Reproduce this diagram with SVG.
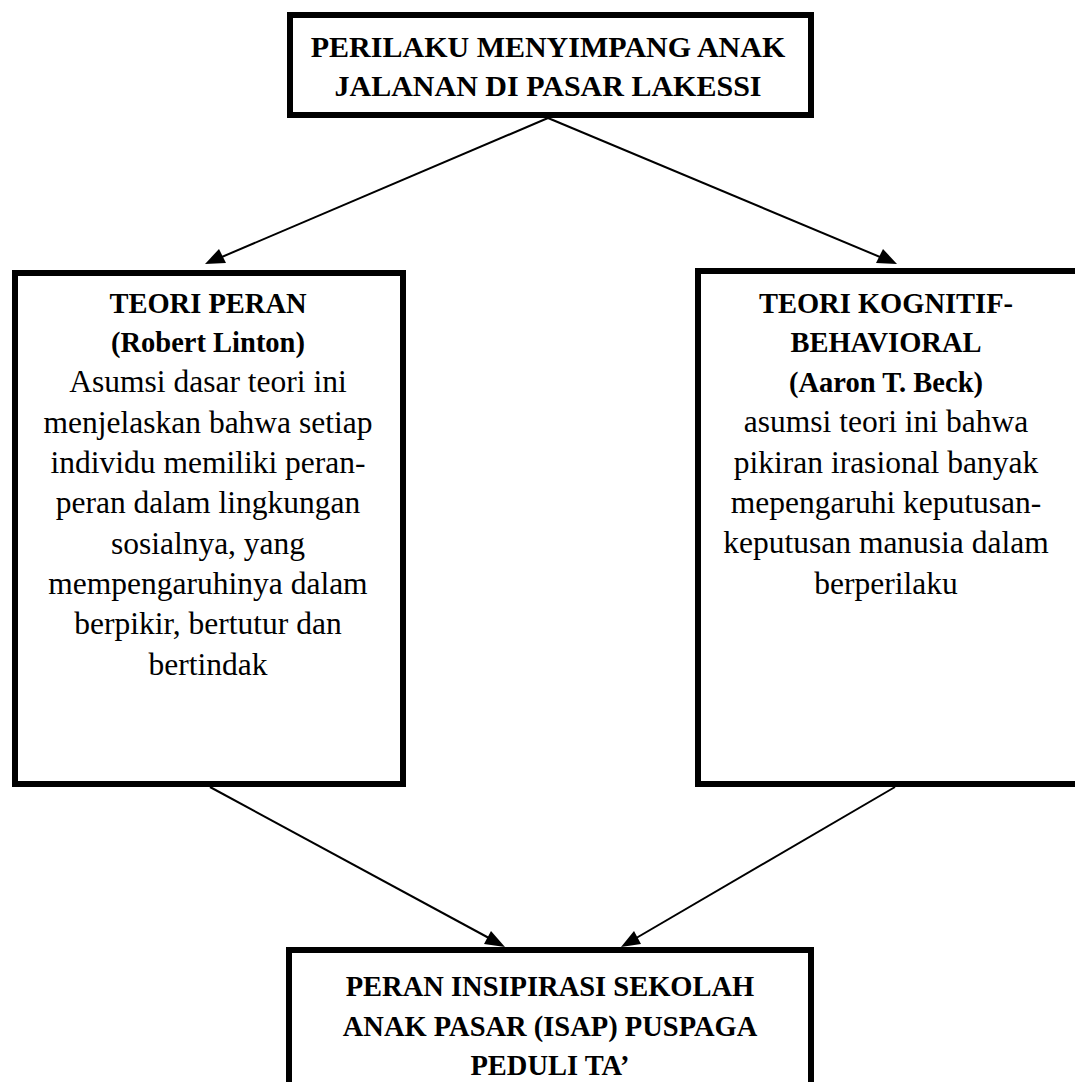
<svg xmlns="http://www.w3.org/2000/svg" width="1075" height="1082" viewBox="0 0 1075 1082">
<defs>
<style>
.box{fill:#fff;stroke:#000;stroke-width:6}
.t{font-family:"Liberation Serif","Times New Roman",serif;font-size:31.5px;fill:#000;text-anchor:middle}
.b{font-weight:bold;font-size:28.5px}
.h1{font-size:30px}
.c{stroke:#000;stroke-width:2;fill:none}
.ah{fill:#000}
</style>
</defs>
<rect width="1075" height="1082" fill="#fff"/>
<g id="connectors">
<line class="c" x1="548" y1="118" x2="210" y2="262"/>
<polygon class="ah" points="205,264 219,249 226,263"/>
<line class="c" x1="548" y1="118" x2="892" y2="262"/>
<polygon class="ah" points="897,264 876,263 883,249"/>
<line class="c" x1="210" y1="787" x2="500" y2="944"/>
<polygon class="ah" points="505,947 484,944 491,931"/>
<line class="c" x1="895" y1="787" x2="626" y2="944"/>
<polygon class="ah" points="621,947 634,931 641,944"/>
</g>
<g id="node-top">
<rect class="box" x="290" y="15" width="521" height="100"/>
<text class="t b h1" x="548" y="57">PERILAKU MENYIMPANG ANAK</text>
<text class="t b h1" x="548" y="96">JALANAN DI PASAR LAKESSI</text>
</g>
<g id="node-left">
<rect class="box" x="15" y="273" width="388" height="511"/>
<text class="t b" x="208" y="313">TEORI PERAN</text>
<text class="t b" x="208" y="352">(Robert Linton)</text>
<text class="t" x="208" y="392">Asumsi dasar teori ini</text>
<text class="t" x="208" y="433">menjelaskan bahwa setiap</text>
<text class="t" x="208" y="473">individu memiliki peran-</text>
<text class="t" x="208" y="513">peran dalam lingkungan</text>
<text class="t" x="208" y="554">sosialnya, yang</text>
<text class="t" x="208" y="594">mempengaruhinya dalam</text>
<text class="t" x="208" y="634">berpikir, bertutur dan</text>
<text class="t" x="208" y="675">bertindak</text>
</g>
<g id="node-right">
<rect class="box" x="698" y="271" width="400" height="513"/>
<text class="t b" x="886" y="313">TEORI KOGNITIF-</text>
<text class="t b" x="886" y="352">BEHAVIORAL</text>
<text class="t b" x="886" y="392">(Aaron T. Beck)</text>
<text class="t" x="886" y="432">asumsi teori ini bahwa</text>
<text class="t" x="886" y="473">pikiran irasional banyak</text>
<text class="t" x="886" y="513">mepengaruhi keputusan-</text>
<text class="t" x="886" y="553">keputusan manusia dalam</text>
<text class="t" x="886" y="594">berperilaku</text>
</g>
<g id="node-bottom">
<rect class="box" x="289" y="950" width="522" height="140"/>
<text class="t b" x="550" y="996">PERAN INSIPIRASI SEKOLAH</text>
<text class="t b" x="550" y="1036">ANAK PASAR (ISAP) PUSPAGA</text>
<text class="t b" x="550" y="1075">PEDULI TA’</text>
</g>
</svg>
